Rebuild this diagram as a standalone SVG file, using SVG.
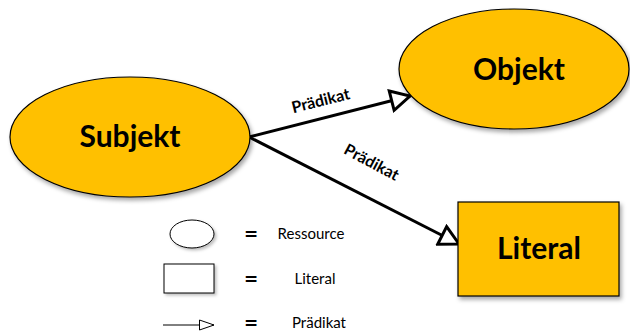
<svg xmlns="http://www.w3.org/2000/svg" width="630" height="332" viewBox="0 0 630 332">
<defs>
<style>
.node{fill:#FFC000;stroke:#000;stroke-width:1.2;filter:url(#sh)}
.big{font-family:Lato,"Liberation Sans",sans-serif;font-weight:bold;font-size:30px;fill:#000;text-anchor:middle}
.lbl{font-family:Lato,"Liberation Sans",sans-serif;font-weight:bold;font-size:16px;fill:#000;text-anchor:middle}
.leg{font-family:Lato,"Liberation Sans",sans-serif;font-size:15px;fill:#000;text-anchor:middle}
.eq{font-family:"DejaVu Sans",sans-serif;font-weight:bold;font-size:17px;fill:#000;text-anchor:middle}
.edge{stroke:#000;stroke-width:3;fill:none}
.lshape{fill:#fff;stroke:#000;stroke-width:1;filter:url(#sh2)}
</style>
<filter id="sh" x="-20%" y="-20%" width="140%" height="150%">
<feDropShadow dx="2" dy="3" stdDeviation="2" flood-color="#000" flood-opacity="0.35"/>
</filter>
<filter id="sh2" x="-20%" y="-20%" width="150%" height="160%">
<feDropShadow dx="2" dy="2" stdDeviation="1.5" flood-color="#000" flood-opacity="0.25"/>
</filter>
<marker id="ah" markerWidth="8" markerHeight="8" refX="7" refY="4" orient="auto" markerUnits="strokeWidth" viewBox="0 0 8 8">
<path d="M0.7,0.7 L7,4 L0.7,7.3 Z" fill="#fff" stroke="#000" stroke-width="1"/>
</marker>
<marker id="ahs" markerWidth="16" markerHeight="12" refX="15" refY="6" orient="auto" markerUnits="userSpaceOnUse" viewBox="0 0 16 12">
<path d="M0.5,1 L15,6 L0.5,11 Z" fill="#fff" stroke="#000" stroke-width="1"/>
</marker>
</defs>
<rect width="630" height="332" fill="#fff"/>
<g id="connectors">
<line class="edge" x1="249" y1="137" x2="410" y2="96" marker-end="url(#ah)"/>
<line class="edge" x1="249" y1="137" x2="459" y2="244" marker-end="url(#ah)"/>
<text class="lbl" transform="translate(322,106) rotate(-14)">Prädikat</text>
<text class="lbl" transform="translate(369,167) rotate(28)">Prädikat</text>
</g>
<g id="subjekt">
<ellipse class="node" cx="130" cy="137" rx="120" ry="60"/>
<text class="big" x="130" y="147">Subjekt</text>
</g>
<g id="objekt">
<ellipse class="node" cx="514" cy="69" rx="115" ry="60"/>
<text class="big" x="519" y="80">Objekt</text>
</g>
<g id="literal">
<rect class="node" x="458" y="202" width="161" height="94"/>
<text class="big" x="539" y="259">Literal</text>
</g>
<g id="legend">
<ellipse class="lshape" cx="192" cy="234" rx="22" ry="14"/>
<rect class="lshape" x="164" y="264" width="50" height="29"/>
<line x1="163" y1="325" x2="214" y2="325" stroke="#000" stroke-width="1" marker-end="url(#ahs)"/>
<text class="eq" x="251" y="240">=</text>
<text class="eq" x="251" y="285">=</text>
<text class="eq" x="251" y="329">=</text>
<text class="leg" x="311" y="239">Ressource</text>
<text class="leg" x="315" y="284">Literal</text>
<text class="leg" x="319" y="328">Prädikat</text>
</g>
</svg>
